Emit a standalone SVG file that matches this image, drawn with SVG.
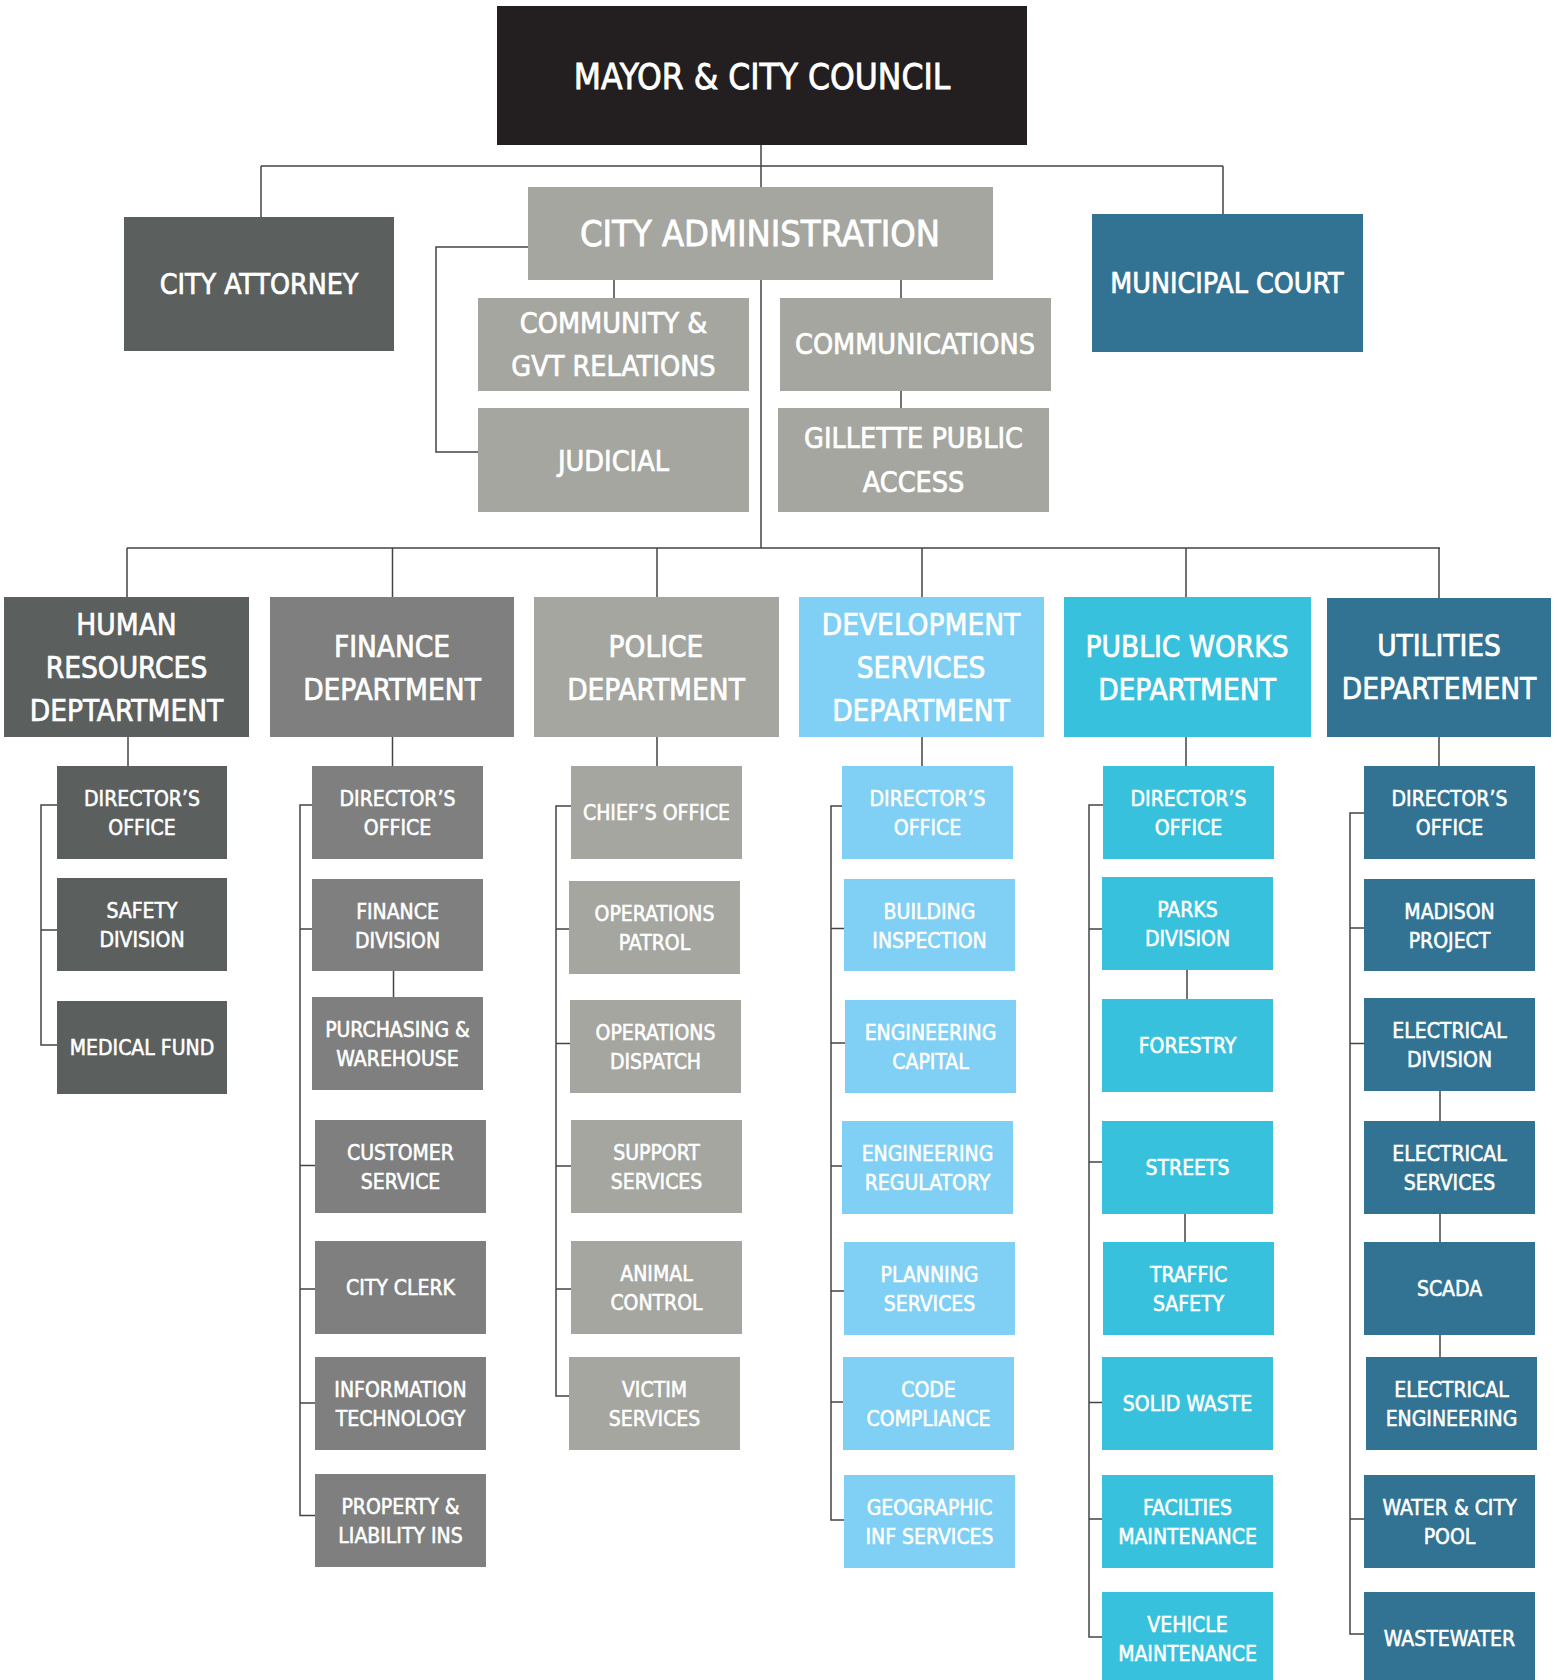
<svg xmlns="http://www.w3.org/2000/svg" width="1558" height="1680" viewBox="0 0 1558 1680">
<style>
  .dark{fill:#231f20}
  .slate{fill:#5b605e}
  .gray{fill:#7e7f7e}
  .light{fill:#a5a6a0}
  .navy{fill:#327393}
  .sky{fill:#80cff4}
  .cyan{fill:#38c1dd}
  text{font-family:"Liberation Sans Narrow","DejaVu Sans Condensed","Liberation Sans",sans-serif;fill:#ffffff;stroke:#ffffff;text-anchor:middle}
  .t1{font-size:35px;stroke-width:0.8px}
  .t2{font-size:36px;stroke-width:0.8px}
  .t3{font-size:29.5px;stroke-width:0.7px}
  .t3b{font-size:28.3px;stroke-width:0.7px}
  .t4{font-size:28.5px;stroke-width:0.7px}
  .t5{font-size:21px;stroke-width:0.55px}
  .conn path{fill:none;stroke:#444444;stroke-width:1.5}
</style>
<rect width="1558" height="1680" fill="#ffffff"/>
<g class="conn" id="connectors">
  <path d="M761 145V548"/>
  <path d="M261 166H1223M261 166V217M1223 166V214"/>
  <path d="M614 280V298M901 280V298M901 391V408"/>
  <path d="M528 247H436V452H478"/>
  <path d="M127 548H1440M127 548V597M392.5 548V597M657 548V597M922 548V597M1186 548V597M1439 548V598"/>
  <path d="M128 737V766M392.5 737V766M657 737V766M922 737V766M1186 737V766M1439 737V766"/>
  <path d="M57 805H41V1045H57M41 930H57"/>
  <path d="M312 805H300V1515.5H315M300 929H312M300 1165.5H315M300 1289H315M300 1403H315M393.5 971V997"/>
  <path d="M571 806H556V1396H569M556 929H569M556 1043.5H570M556 1166H571M556 1289H571"/>
  <path d="M842 806H831V1520H844M831 928.5H844M831 1043H845M831 1166H842M831 1291H844M831 1402H843"/>
  <path d="M1103 805H1089V1637H1102M1089 929H1102M1089 1162H1102M1089 1402.5H1102M1089 1519H1102M1187 970V999M1185 1214V1242"/>
  <path d="M1364 813H1350V1634H1364M1350 928H1364M1350 1043.5H1364M1350 1519H1364M1440 1091V1121M1440 1214V1242M1440 1335V1357"/>
</g>
<g id="mayor"><rect class="dark" x="497" y="6" width="530" height="139"/><text class="t1" x="762" y="89">MAYOR &amp; CITY COUNCIL</text></g>
<g id="city-attorney"><rect class="slate" x="124" y="217" width="270" height="134"/><text class="t3b" x="259" y="294">CITY ATTORNEY</text></g>
<g id="city-administration"><rect class="light" x="528" y="187" width="465" height="93"/><text class="t2" x="760" y="246">CITY ADMINISTRATION</text></g>
<g id="municipal-court"><rect class="navy" x="1092" y="214" width="271" height="138"/><text class="t3b" x="1227" y="293">MUNICIPAL COURT</text></g>
<g id="community"><rect class="light" x="478" y="298" width="271" height="93"/><text class="t4" x="613.5" y="333">COMMUNITY &amp;</text><text class="t4" x="613.5" y="375.5">GVT RELATIONS</text></g>
<g id="judicial"><rect class="light" x="478" y="408" width="271" height="104"/><text class="t4" x="613.5" y="471">JUDICIAL</text></g>
<g id="communications"><rect class="light" x="780" y="298" width="271" height="93"/><text class="t4" x="915" y="354">COMMUNICATIONS</text></g>
<g id="gillette"><rect class="light" x="778" y="408" width="271" height="104"/><text class="t4" x="913.5" y="448">GILLETTE PUBLIC</text><text class="t4" x="913.5" y="492">ACCESS</text></g>

<g id="hr"><rect class="slate" x="4" y="597" width="245" height="140"/><text class="t3" x="126.5" y="635">HUMAN</text><text class="t3" x="126.5" y="678">RESOURCES</text><text class="t3" x="126.5" y="721">DEPTARTMENT</text></g>
<g id="finance"><rect class="gray" x="270" y="597" width="244" height="140"/><text class="t3" x="392" y="657">FINANCE</text><text class="t3" x="392" y="700">DEPARTMENT</text></g>
<g id="police"><rect class="light" x="534" y="597" width="245" height="140"/><text class="t3" x="656" y="657">POLICE</text><text class="t3" x="656" y="700">DEPARTMENT</text></g>
<g id="development"><rect class="sky" x="799" y="597" width="245" height="140"/><text class="t3" x="921" y="635">DEVELOPMENT</text><text class="t3" x="921" y="678">SERVICES</text><text class="t3" x="921" y="721">DEPARTMENT</text></g>
<g id="public-works"><rect class="cyan" x="1064" y="597" width="247" height="140"/><text class="t3" x="1187" y="657">PUBLIC WORKS</text><text class="t3" x="1187" y="700">DEPARTMENT</text></g>
<g id="utilities"><rect class="navy" x="1327" y="598" width="224" height="139"/><text class="t3" x="1439" y="656">UTILITIES</text><text class="t3" x="1439" y="699">DEPARTEMENT</text></g>

<g id="hr-director"><rect class="slate" x="57" y="766" width="170" height="93"/><text class="t5" x="142" y="806">DIRECTOR’S</text><text class="t5" x="142" y="835">OFFICE</text></g>
<g id="hr-safety"><rect class="slate" x="57" y="878" width="170" height="93"/><text class="t5" x="142" y="918">SAFETY</text><text class="t5" x="142" y="947">DIVISION</text></g>
<g id="hr-medical"><rect class="slate" x="57" y="1001" width="170" height="93"/><text class="t5" x="142" y="1055">MEDICAL FUND</text></g>

<g id="fin-director"><rect class="gray" x="312" y="766" width="171" height="93"/><text class="t5" x="397.5" y="806">DIRECTOR’S</text><text class="t5" x="397.5" y="835">OFFICE</text></g>
<g id="fin-division"><rect class="gray" x="312" y="879" width="171" height="92"/><text class="t5" x="397.5" y="918.5">FINANCE</text><text class="t5" x="397.5" y="947.5">DIVISION</text></g>
<g id="fin-purchasing"><rect class="gray" x="312" y="997" width="171" height="93"/><text class="t5" x="397.5" y="1037">PURCHASING &amp;</text><text class="t5" x="397.5" y="1066">WAREHOUSE</text></g>
<g id="fin-customer"><rect class="gray" x="315" y="1120" width="171" height="93"/><text class="t5" x="400.5" y="1160">CUSTOMER</text><text class="t5" x="400.5" y="1189">SERVICE</text></g>
<g id="fin-clerk"><rect class="gray" x="315" y="1241" width="171" height="93"/><text class="t5" x="400.5" y="1295">CITY CLERK</text></g>
<g id="fin-it"><rect class="gray" x="315" y="1357" width="171" height="93"/><text class="t5" x="400.5" y="1397">INFORMATION</text><text class="t5" x="400.5" y="1426">TECHNOLOGY</text></g>
<g id="fin-property"><rect class="gray" x="315" y="1474" width="171" height="93"/><text class="t5" x="400.5" y="1514">PROPERTY &amp;</text><text class="t5" x="400.5" y="1543">LIABILITY INS</text></g>

<g id="pol-chief"><rect class="light" x="571" y="766" width="171" height="93"/><text class="t5" x="656.5" y="820">CHIEF’S OFFICE</text></g>
<g id="pol-patrol"><rect class="light" x="569" y="881" width="171" height="93"/><text class="t5" x="654.5" y="921">OPERATIONS</text><text class="t5" x="654.5" y="950">PATROL</text></g>
<g id="pol-dispatch"><rect class="light" x="570" y="1000" width="171" height="93"/><text class="t5" x="655.5" y="1040">OPERATIONS</text><text class="t5" x="655.5" y="1069">DISPATCH</text></g>
<g id="pol-support"><rect class="light" x="571" y="1120" width="171" height="93"/><text class="t5" x="656.5" y="1160">SUPPORT</text><text class="t5" x="656.5" y="1189">SERVICES</text></g>
<g id="pol-animal"><rect class="light" x="571" y="1241" width="171" height="93"/><text class="t5" x="656.5" y="1281">ANIMAL</text><text class="t5" x="656.5" y="1310">CONTROL</text></g>
<g id="pol-victim"><rect class="light" x="569" y="1357" width="171" height="93"/><text class="t5" x="654.5" y="1397">VICTIM</text><text class="t5" x="654.5" y="1426">SERVICES</text></g>

<g id="dev-director"><rect class="sky" x="842" y="766" width="171" height="93"/><text class="t5" x="927.5" y="806">DIRECTOR’S</text><text class="t5" x="927.5" y="835">OFFICE</text></g>
<g id="dev-building"><rect class="sky" x="844" y="879" width="171" height="92"/><text class="t5" x="929.5" y="918.5">BUILDING</text><text class="t5" x="929.5" y="947.5">INSPECTION</text></g>
<g id="dev-capital"><rect class="sky" x="845" y="1000" width="171" height="93"/><text class="t5" x="930.5" y="1040">ENGINEERING</text><text class="t5" x="930.5" y="1069">CAPITAL</text></g>
<g id="dev-regulatory"><rect class="sky" x="842" y="1121" width="171" height="93"/><text class="t5" x="927.5" y="1161">ENGINEERING</text><text class="t5" x="927.5" y="1190">REGULATORY</text></g>
<g id="dev-planning"><rect class="sky" x="844" y="1242" width="171" height="93"/><text class="t5" x="929.5" y="1282">PLANNING</text><text class="t5" x="929.5" y="1311">SERVICES</text></g>
<g id="dev-code"><rect class="sky" x="843" y="1357" width="171" height="93"/><text class="t5" x="928.5" y="1397">CODE</text><text class="t5" x="928.5" y="1426">COMPLIANCE</text></g>
<g id="dev-gis"><rect class="sky" x="844" y="1475" width="171" height="93"/><text class="t5" x="929.5" y="1515">GEOGRAPHIC</text><text class="t5" x="929.5" y="1544">INF SERVICES</text></g>

<g id="pw-director"><rect class="cyan" x="1103" y="766" width="171" height="93"/><text class="t5" x="1188.5" y="806">DIRECTOR’S</text><text class="t5" x="1188.5" y="835">OFFICE</text></g>
<g id="pw-parks"><rect class="cyan" x="1102" y="877" width="171" height="93"/><text class="t5" x="1187.5" y="917">PARKS</text><text class="t5" x="1187.5" y="946">DIVISION</text></g>
<g id="pw-forestry"><rect class="cyan" x="1102" y="999" width="171" height="93"/><text class="t5" x="1187.5" y="1053">FORESTRY</text></g>
<g id="pw-streets"><rect class="cyan" x="1102" y="1121" width="171" height="93"/><text class="t5" x="1187.5" y="1175">STREETS</text></g>
<g id="pw-traffic"><rect class="cyan" x="1103" y="1242" width="171" height="93"/><text class="t5" x="1188.5" y="1282">TRAFFIC</text><text class="t5" x="1188.5" y="1311">SAFETY</text></g>
<g id="pw-solid"><rect class="cyan" x="1102" y="1357" width="171" height="93"/><text class="t5" x="1187.5" y="1411">SOLID WASTE</text></g>
<g id="pw-facilities"><rect class="cyan" x="1102" y="1475" width="171" height="93"/><text class="t5" x="1187.5" y="1515">FACILTIES</text><text class="t5" x="1187.5" y="1544">MAINTENANCE</text></g>
<g id="pw-vehicle"><rect class="cyan" x="1102" y="1592" width="171" height="93"/><text class="t5" x="1187.5" y="1632">VEHICLE</text><text class="t5" x="1187.5" y="1661">MAINTENANCE</text></g>

<g id="ut-director"><rect class="navy" x="1364" y="766" width="171" height="93"/><text class="t5" x="1449.5" y="806">DIRECTOR’S</text><text class="t5" x="1449.5" y="835">OFFICE</text></g>
<g id="ut-madison"><rect class="navy" x="1364" y="879" width="171" height="92"/><text class="t5" x="1449.5" y="918.5">MADISON</text><text class="t5" x="1449.5" y="947.5">PROJECT</text></g>
<g id="ut-elec-division"><rect class="navy" x="1364" y="998" width="171" height="93"/><text class="t5" x="1449.5" y="1038">ELECTRICAL</text><text class="t5" x="1449.5" y="1067">DIVISION</text></g>
<g id="ut-elec-services"><rect class="navy" x="1364" y="1121" width="171" height="93"/><text class="t5" x="1449.5" y="1161">ELECTRICAL</text><text class="t5" x="1449.5" y="1190">SERVICES</text></g>
<g id="ut-scada"><rect class="navy" x="1364" y="1242" width="171" height="93"/><text class="t5" x="1449.5" y="1296">SCADA</text></g>
<g id="ut-elec-engineering"><rect class="navy" x="1366" y="1357" width="171" height="93"/><text class="t5" x="1451.5" y="1397">ELECTRICAL</text><text class="t5" x="1451.5" y="1426">ENGINEERING</text></g>
<g id="ut-water"><rect class="navy" x="1364" y="1475" width="171" height="93"/><text class="t5" x="1449.5" y="1515">WATER &amp; CITY</text><text class="t5" x="1449.5" y="1544">POOL</text></g>
<g id="ut-wastewater"><rect class="navy" x="1364" y="1592" width="171" height="93"/><text class="t5" x="1449.5" y="1646">WASTEWATER</text></g>
</svg>
